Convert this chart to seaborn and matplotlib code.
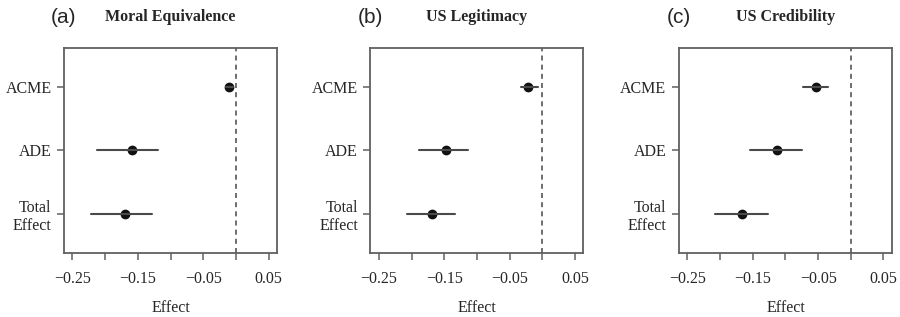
import pandas as pd
import matplotlib
matplotlib.use("Agg")
import matplotlib.pyplot as plt
import seaborn as sns

# Mediation estimates (point, lower CI, upper CI)
terms = ["ACME", "ADE", "Total\nEffect"]

moral_est = [-0.010, -0.159, -0.170]
moral_lo = [-0.015, -0.213, -0.222]
moral_hi = [-0.005, -0.119, -0.128]

legit_est = [-0.021, -0.147, -0.168]
legit_lo = [-0.032, -0.188, -0.207]
legit_hi = [-0.007, -0.114, -0.133]

cred_est = [-0.054, -0.113, -0.167]
cred_lo = [-0.073, -0.154, -0.208]
cred_hi = [-0.035, -0.075, -0.127]

panel_letters = ["(a)", "(b)", "(c)"]
panel_titles = ["Moral Equivalence", "US Legitimacy", "US Credibility"]
xticks = [-0.25, -0.20, -0.15, -0.10, -0.05, 0.0, 0.05]
xticklabels = ["\u22120.25", "", "\u22120.15", "", "\u22120.05", "", "0.05"]

panels = [
    (moral_est, moral_lo, moral_hi),
    (legit_est, legit_lo, legit_hi),
    (cred_est, cred_lo, cred_hi),
]

# long table: three rows per term so median = point, min/max = CI
rows = []
for p, (est, lo, hi) in enumerate(panels):
    for i, t in enumerate(terms):
        for v in (lo[i], est[i], hi[i]):
            rows.append({"panel": p, "term": t, "value": v})
df = pd.DataFrame(rows)

sns.set_theme(style="white")
plt.rcParams["font.family"] = ["Liberation Serif", "DejaVu Serif"]

fig = plt.figure(figsize=(9, 3.17), dpi=100)
lefts = [0.0711, 0.4115, 0.7544]
width = 0.2367
bottom, height = 0.2019, 0.6467

frame_col = "#606060"
for p in range(3):
    ax = fig.add_axes([lefts[p], bottom, width, height])
    sub = df[df["panel"] == p]
    sns.pointplot(
        data=sub, x="value", y="term", order=terms,
        estimator="median", errorbar=lambda v: (v.min(), v.max()),
        linestyle="none", marker="o", markersize=5,
        color="#111111",
        err_kws={"color": "#4a4a4a", "linewidth": 1.5},
        ax=ax,
    )
    ax.axvline(0, color="#555555", linestyle=(0, (3, 2.5)), linewidth=1.2, zorder=0)
    ax.set_xlim(-0.263, 0.063)
    ax.set_ylim(2.62, -0.62)
    ax.set_xticks(xticks)
    ax.set_xticklabels(xticklabels)
    ax.set_xlabel("Effect", fontsize=11.5, labelpad=9)
    ax.set_ylabel("")
    ax.tick_params(axis="x", pad=8)
    ax.tick_params(axis="y", pad=4)
    ax.tick_params(axis="both", which="major", labelsize=11.5, length=5,
                   width=1.1, color=frame_col, direction="out",
                   bottom=True, left=True)
    for s in ax.spines.values():
        s.set_color(frame_col)
        s.set_linewidth(1.3)
    ax.text(0.0, 1.15, panel_letters[p], transform=ax.transAxes,
            ha="center", va="center", fontsize=15,
            family=["Liberation Sans", "DejaVu Sans"])
    ax.text(0.5, 1.15, panel_titles[p], transform=ax.transAxes,
            ha="center", va="center", fontsize=11.5, fontweight="bold")

fig.savefig("out.png", dpi=100)
